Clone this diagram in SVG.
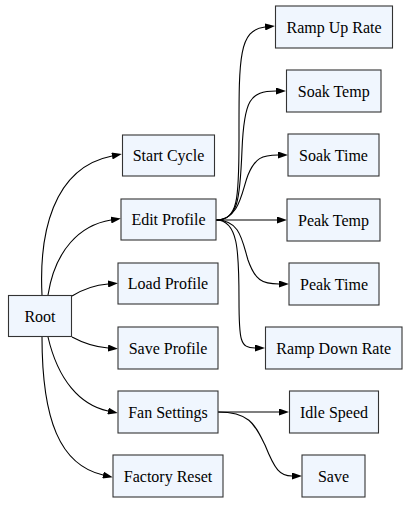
<svg xmlns="http://www.w3.org/2000/svg" width="407" height="517" viewBox="0 0 407 517">
<defs>
<marker id="ah" viewBox="0 0 10 7" refX="0" refY="3.5" markerWidth="10" markerHeight="7" markerUnits="userSpaceOnUse" orient="auto">
<polygon points="0,0 10,3.5 0,7" fill="#000"/>
</marker>
<style>
.n rect{fill:#f0f6fe;stroke:#333;stroke-width:1.1}
.n text{font-family:'Liberation Serif','Times New Roman','DejaVu Serif',serif;font-size:16px;fill:#000;text-anchor:middle}
.e path{fill:none;stroke:#000;stroke-width:1.1;marker-end:url(#ah)}
</style>
</defs>
<rect width="407" height="517" fill="#fff"/>
<g class="e" id="edges">
<path d="M42,295 C39,235 52,168 112,156"/>
<path d="M48,295 C55,250 80,225 111,220"/>
<path d="M72,296 C85,288 95,285 108,284"/>
<path d="M72,337 C85,344 95,347 108,348"/>
<path d="M48,337 C58,380 80,405 108,411"/>
<path d="M42,337 C42,420 60,465 103,475"/>
<path d="M216,220 C238,220 239,200 239,140 C239,60 238,30 265,27"/>
<path d="M216,220 C238,220 240,200 242,150 C244,100 250,91 276,91"/>
<path d="M216,220 C240,220 242,190 248,175 C255,158 262,155 278,155"/>
<path d="M216,220 L277,220"/>
<path d="M216,220 C240,220 242,240 248,260 C255,280 262,284 279,284"/>
<path d="M216,220 C238,220 239,250 239,300 C239,340 240,348 255,348"/>
<path d="M218,412 L279,412"/>
<path d="M218,412 C250,412 255,425 265,445 C275,470 280,476 292,476"/>
</g>
<g class="n" id="root"><rect x="8.5" y="295.5" width="63" height="41"/><text x="40" y="322" font-family="Liberation Serif, serif">Root</text></g>
<g class="n" id="start-cycle"><rect x="122.5" y="135" width="92" height="41"/><text x="168.5" y="161" font-family="Liberation Serif, serif">Start Cycle</text></g>
<g class="n" id="edit-profile"><rect x="121" y="199" width="95" height="41"/><text x="168.5" y="225" font-family="Liberation Serif, serif">Edit Profile</text></g>
<g class="n" id="load-profile"><rect x="118" y="263" width="100" height="41"/><text x="168" y="289" font-family="Liberation Serif, serif">Load Profile</text></g>
<g class="n" id="save-profile"><rect x="118" y="327" width="100" height="42"/><text x="168" y="353.5" font-family="Liberation Serif, serif">Save Profile</text></g>
<g class="n" id="fan-settings"><rect x="118" y="391" width="100" height="42"/><text x="168" y="417.5" font-family="Liberation Serif, serif">Fan Settings</text></g>
<g class="n" id="factory-reset"><rect x="113" y="455" width="110" height="42"/><text x="168" y="481.5" font-family="Liberation Serif, serif">Factory Reset</text></g>
<g class="n" id="ramp-up-rate"><rect x="275.5" y="6" width="117" height="42"/><text x="334" y="32.5" font-family="Liberation Serif, serif">Ramp Up Rate</text></g>
<g class="n" id="soak-temp"><rect x="286.5" y="70" width="94.5" height="42"/><text x="333.7" y="96.5" font-family="Liberation Serif, serif">Soak Temp</text></g>
<g class="n" id="soak-time"><rect x="288" y="134" width="91" height="42"/><text x="333.5" y="160.5" font-family="Liberation Serif, serif">Soak Time</text></g>
<g class="n" id="peak-temp"><rect x="287" y="199" width="93" height="42"/><text x="333.5" y="225.5" font-family="Liberation Serif, serif">Peak Temp</text></g>
<g class="n" id="peak-time"><rect x="289" y="263" width="90" height="42"/><text x="334" y="289.5" font-family="Liberation Serif, serif">Peak Time</text></g>
<g class="n" id="ramp-down-rate"><rect x="265.5" y="327" width="136.5" height="42"/><text x="333.7" y="353.5" font-family="Liberation Serif, serif">Ramp Down Rate</text></g>
<g class="n" id="idle-speed"><rect x="289.5" y="391" width="89" height="42"/><text x="334" y="417.5" font-family="Liberation Serif, serif">Idle Speed</text></g>
<g class="n" id="save"><rect x="302" y="455" width="63" height="42"/><text x="333.5" y="481.5" font-family="Liberation Serif, serif">Save</text></g>
</svg>
